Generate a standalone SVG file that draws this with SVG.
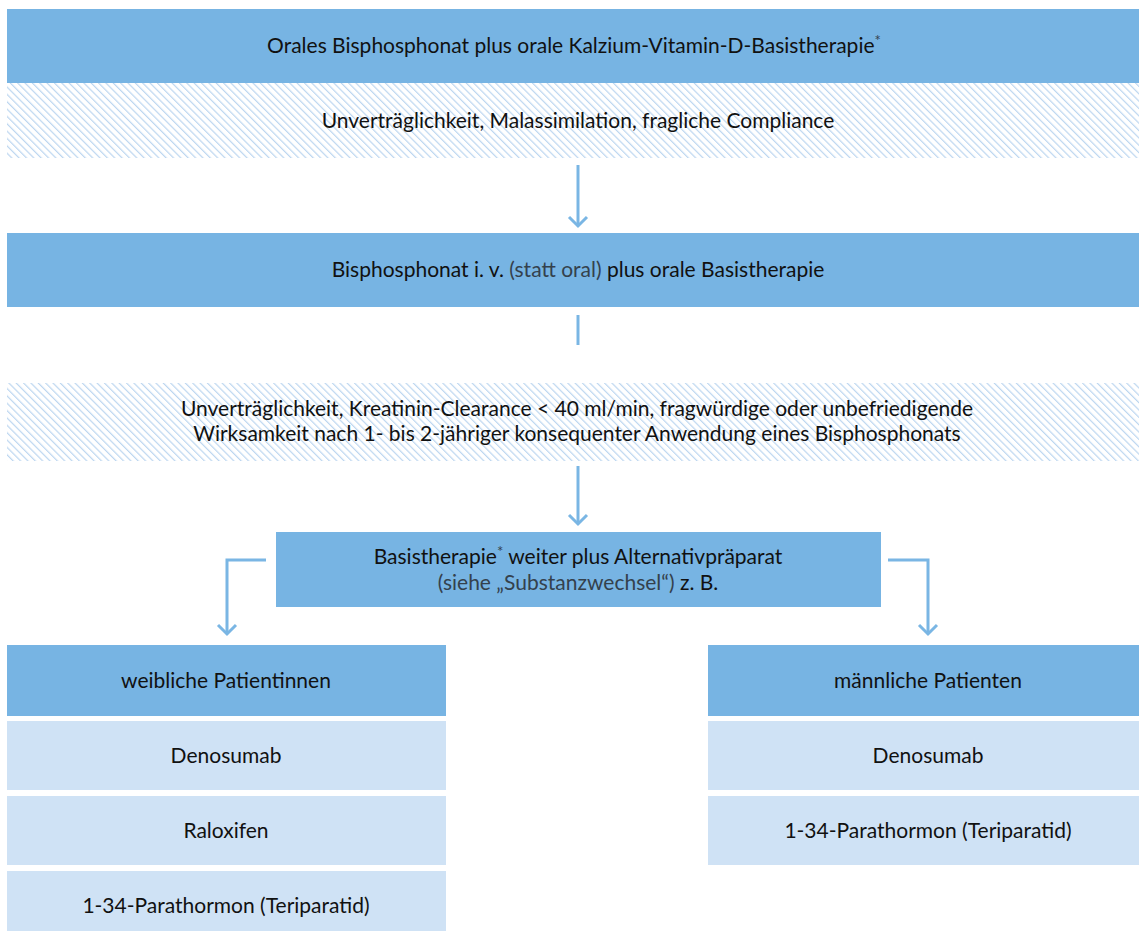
<svg xmlns="http://www.w3.org/2000/svg" width="1139" height="931" viewBox="0 0 1139 931">
<style>
.dark{fill:#77b4e3}
.light{fill:#cfe2f5}
.hatch{fill:url(#stripes)}
text{font-family:Lato,"Noto Sans","Liberation Sans",sans-serif;font-size:21px;fill:#111;text-anchor:middle}
.g{fill:#34414d}
.sup{fill:#34414d;font-size:15px}
.conn{fill:none;stroke:#7ab6e4;stroke-width:3;stroke-linecap:butt}
.head{fill:none;stroke:#7ab6e4;stroke-width:3;stroke-linejoin:miter}
</style>
<defs>
<pattern id="stripes" width="5.2" height="5.2" patternUnits="userSpaceOnUse" patternTransform="rotate(-45)">
<rect width="5.2" height="5.2" fill="#ffffff"/>
<line x1="0.6" y1="0" x2="0.6" y2="5.2" stroke="#bcd6f0" stroke-width="1.2"/>
</pattern>
</defs>
<rect width="1139" height="931" fill="#ffffff"/>

<g id="connectors">
<path class="conn" d="M578,165 V226"/>
<path class="head" d="M569,217 L578,226 L587,217"/>
<path class="conn" d="M578,315 V345"/>
<path class="conn" d="M578,466 V524"/>
<path class="head" d="M569,515 L578,524 L587,515"/>
<path class="conn" d="M266,560 H227 V634"/>
<path class="head" d="M218,625 L227,634 L236,625"/>
<path class="conn" d="M888,560 H928 V634"/>
<path class="head" d="M919,625 L928,634 L937,625"/>
</g>

<g id="n1">
<rect class="dark" x="7" y="9" width="1132" height="74"/>
<text x="574" y="53">Orales Bisphosphonat plus orale Kalzium-Vitamin-D-Basistherapie<tspan class="sup" dy="-7">*</tspan></text>
</g>
<g id="c1">
<rect class="hatch" x="7" y="83" width="1132" height="75"/>
<text x="578" y="128">Unverträglichkeit, Malassimilation, fragliche Compliance</text>
</g>
<g id="n2">
<rect class="dark" x="7" y="233" width="1132" height="74"/>
<text x="578" y="277">Bisphosphonat i. v. <tspan class="g">(statt oral)</tspan> plus orale Basistherapie</text>
</g>
<g id="c2">
<rect class="hatch" x="7" y="383" width="1132" height="78"/>
<text x="577" y="416">Unverträglichkeit, Kreatinin-Clearance &lt; 40 ml/min, fragwürdige oder unbefriedigende</text>
<text x="577" y="441">Wirksamkeit nach 1- bis 2-jähriger konsequenter Anwendung eines Bisphosphonats</text>
</g>
<g id="n3">
<rect class="dark" x="276" y="532" width="605" height="75"/>
<text x="578" y="564">Basistherapie<tspan class="sup" dy="-7">*</tspan><tspan dy="7"> weiter plus Alternativpräparat</tspan></text>
<text x="578" y="590"><tspan class="g">(siehe „Substanzwechsel“)</tspan> z. B.</text>
</g>
<g id="female">
<rect class="dark" x="7" y="645" width="439" height="71"/>
<text x="226" y="688">weibliche Patientinnen</text>
</g>
<g id="f1">
<rect class="light" x="7" y="721" width="439" height="69"/>
<text x="226" y="763">Denosumab</text>
</g>
<g id="f2">
<rect class="light" x="7" y="796" width="439" height="69"/>
<text x="226" y="838">Raloxifen</text>
</g>
<g id="f3">
<rect class="light" x="7" y="871" width="439" height="60"/>
<text x="226" y="913">1-34-Parathormon (Teriparatid)</text>
</g>
<g id="male">
<rect class="dark" x="708" y="645" width="431" height="71"/>
<text x="928" y="688">männliche Patienten</text>
</g>
<g id="m1">
<rect class="light" x="708" y="721" width="431" height="69"/>
<text x="928" y="763">Denosumab</text>
</g>
<g id="m2">
<rect class="light" x="708" y="796" width="431" height="69"/>
<text x="928" y="838">1-34-Parathormon (Teriparatid)</text>
</g>
</svg>
